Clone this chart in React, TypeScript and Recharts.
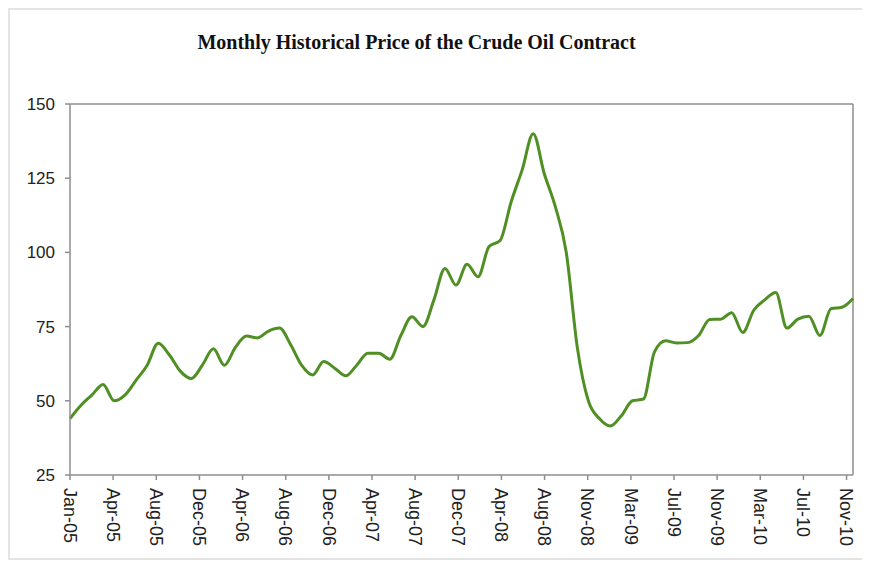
import { LineChart, Line, XAxis, YAxis, ReferenceLine } from "recharts";

// month labels, one per data point (Jan-05 .. Dec-10)
const months = [
  "Jan-05", "Feb-05", "Mar-05", "Apr-05", "May-05", "Jun-05", "Jul-05", "Aug-05", "Sep-05", "Oct-05", "Nov-05", "Dec-05",
  "Jan-06", "Feb-06", "Mar-06", "Apr-06", "May-06", "Jun-06", "Jul-06", "Aug-06", "Sep-06", "Oct-06", "Nov-06", "Dec-06",
  "Jan-07", "Feb-07", "Mar-07", "Apr-07", "May-07", "Jun-07", "Jul-07", "Aug-07", "Sep-07", "Oct-07", "Nov-07", "Dec-07",
  "Jan-08", "Feb-08", "Mar-08", "Apr-08", "May-08", "Jun-08", "Jul-08", "Aug-08", "Sep-08", "Oct-08", "Nov-08", "Dec-08",
  "Jan-09", "Feb-09", "Mar-09", "Apr-09", "May-09", "Jun-09", "Jul-09", "Aug-09", "Sep-09", "Oct-09", "Nov-09", "Dec-09",
  "Jan-10", "Feb-10", "Mar-10", "Apr-10", "May-10", "Jun-10", "Jul-10", "Aug-10", "Sep-10", "Oct-10", "Nov-10", "Dec-10",
];

// crude oil price
const prices = [
  44, 48.5, 52, 55.5, 50, 52, 57, 62, 69.4, 65.5, 60, 57.5,
  62, 67.5, 62, 68, 71.8, 71.2, 73.5, 74.5, 69, 62, 58.7, 63.2,
  61, 58.4, 62, 66, 66, 64, 72, 78.3, 75, 84, 94.6, 89,
  96, 91.8, 102, 104, 117, 127.8, 140, 126.6, 115.5, 100, 68, 50,
  44, 41.5, 45, 50, 50.6, 66.5, 70.2, 69.5, 69.6, 72, 77.4, 77.5,
  79.7, 73, 80.5, 84, 86.5, 74.5, 77.5, 78.5, 72, 81, 81.5, 84.5,
];

// category labels shown on the x axis (Excel skips ~3.9 months per label)
const xTickLabels = [
  "Jan-05", "Apr-05", "Aug-05", "Dec-05", "Apr-06", "Aug-06", "Dec-06", "Apr-07", "Aug-07",
  "Dec-07", "Apr-08", "Aug-08", "Nov-08", "Mar-09", "Jul-09", "Nov-09", "Mar-10", "Jul-10", "Nov-10",
];
const yTicks = [25, 50, 75, 100, 125, 150];

const TICK_STEP = 3.912;
const xTicks = xTickLabels.map((_, i) => i * TICK_STEP);

const data = prices.map((p, i) => ({ m: i, month: months[i], price: p }));

const FONT = "'Liberation Sans', Arial, sans-serif";
const AXIS = "#8e8e8e";

function MonthTick(props: any) {
  const { x, y, payload } = props;
  const label = xTickLabels[Math.round(payload.value / TICK_STEP)];
  return (
    <text
      x={x}
      y={y}
      transform={`rotate(90, ${x}, ${y})`}
      textAnchor="start"
      dy="0.35em"
      fill="#222"
      fontSize={18}
      fontFamily={FONT}
    >
      {label}
    </text>
  );
}

export default function App() {
  return (
    <div style={{ position: "relative", width: 862, height: 552 }}>
      <div
        style={{
          position: "absolute",
          inset: 0,
          borderTop: "2px solid #e4e4e4",
          borderLeft: "2px solid #e4e4e4",
          borderBottom: "2px solid #e4e4e4",
        }}
      />
      <div
        style={{
          position: "absolute",
          top: 21,
          left: 0,
          width: 817,
          textAlign: "center",
          fontFamily: "'Liberation Serif', 'Times New Roman', serif",
          fontWeight: "bold",
          fontSize: 20,
          lineHeight: "26px",
          color: "#111",
        }}
      >
        Monthly Historical Price of the Crude Oil Contract
      </div>
      <div style={{ position: "absolute", top: 0, left: 0 }}>
        <LineChart
          width={862}
          height={551}
          data={data}
          margin={{ top: 96, right: 17, bottom: 4, left: 0 }}
        >
          <XAxis
            dataKey="m"
            type="number"
            domain={[0, 71]}
            ticks={xTicks}
            interval={0}
            tick={<MonthTick />}
            tickSize={5}
            tickMargin={8}
            height={80}
            stroke={AXIS}
            strokeWidth={1.5}
          />
          <YAxis
            domain={[25, 150]}
            ticks={yTicks}
            interval={0}
            width={62}
            tickSize={5}
            tickMargin={10}
            stroke={AXIS}
            strokeWidth={1.5}
            tick={{ fill: "#222", fontSize: 17, fontFamily: FONT }}
          />
          <ReferenceLine y={150} stroke={AXIS} strokeWidth={1.5} />
          <ReferenceLine x={71} stroke={AXIS} strokeWidth={1.5} />
          <Line
            dataKey="price"
            type="monotone"
            stroke="#4f8f24"
            strokeWidth={3}
            dot={false}
            isAnimationActive={false}
          />
        </LineChart>
      </div>
    </div>
  );
}
